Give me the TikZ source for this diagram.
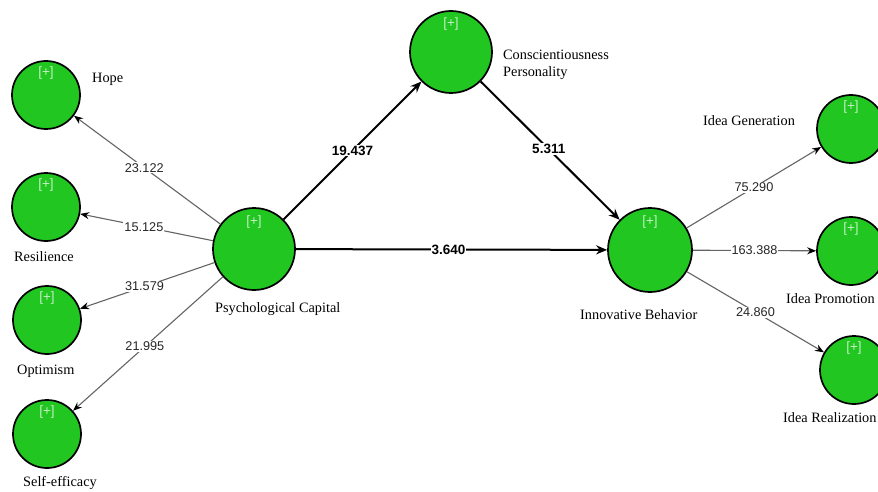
\documentclass[tikz,border=0pt]{standalone}
\usepackage{fontspec}
\setmainfont{Liberation Serif}
\newfontfamily\numfont{Liberation Sans}
\usetikzlibrary{arrows.meta}
\definecolor{lvgreen}{RGB}{33,198,33}
\definecolor{plusc}{RGB}{195,238,195}
\definecolor{indgray}{RGB}{100,100,100}
\begin{document}
\begin{tikzpicture}[x=1pt,y=-1pt,
  lv/.style={circle,draw=black,line width=1.7pt,fill=lvgreen,inner sep=0pt,minimum size=#1},
  pluslbl/.style={text=plusc,font=\numfont\fontsize{13.5}{14}\selectfont,inner sep=0pt},
  txt/.style={anchor=west,inner sep=0pt,font=\fontsize{14.3}{17.5}\selectfont,align=left},
  num/.style={fill=white,inner sep=1pt,font=\numfont\fontsize{12.7}{14}\selectfont,text=black!85},
  bnum/.style={fill=white,inner sep=1pt,font=\numfont\bfseries\fontsize{13.5}{15}\selectfont},
  ind/.style={draw=indgray,line width=1.1pt,-{Stealth[length=9pt,width=7pt,color=black]}},
  path/.style={draw=black,line width=2pt,-{Stealth[length=11pt,width=9pt]}}
]
\useasboundingbox (0,0) rectangle (878,492);
\clip (0,0) rectangle (878,492);
% latent variables
\node[lv=82pt] (psy) at (254,249) {};
\node[lv=82pt] (con) at (451,52) {};
\node[lv=84pt] (inn) at (650,250) {};
% indicators left
\node[lv=68pt] (hope) at (46,95) {};
\node[lv=68pt] (res) at (46,207) {};
\node[lv=68pt] (opt) at (47,320) {};
\node[lv=68pt] (self) at (47,434) {};
% indicators right
\node[lv=68pt] (ig) at (851,129) {};
\node[lv=68pt] (ip) at (851,251) {};
\node[lv=68pt] (ir) at (854,370) {};
% [+] marks
\node[pluslbl] (psyp) at ([yshift=27pt]psy.center) {[+]};
\node[pluslbl] (conp) at ([yshift=28pt]con.center) {[+]};
\node[pluslbl] (innp) at ([yshift=28pt]inn.center) {[+]};
\node[pluslbl] (hopep) at ([yshift=22pt]hope.center) {[+]};
\node[pluslbl] (resp) at ([yshift=22pt]res.center) {[+]};
\node[pluslbl] (optp) at ([yshift=22pt]opt.center) {[+]};
\node[pluslbl] (selfp) at ([yshift=22pt]self.center) {[+]};
\node[pluslbl] (igp) at ([yshift=22pt]ig.center) {[+]};
\node[pluslbl] (ipp) at ([yshift=22pt]ip.center) {[+]};
\node[pluslbl] (irp) at ([yshift=22pt]ir.center) {[+]};
% labels
\node[txt] (hopel) at (92,79) {Hope};
\node[txt] (resl) at (14,257) {Resilience};
\node[txt] (optl) at (17,371) {Optimism};
\node[txt] (selfl) at (23,483) {Self-efficacy};
\node[txt] (psyl) at (215,309) {Psychological Capital};
\node[txt] (conl) at (503,65) {Conscientiousness\\Personality};
\node[txt] (innl) at (580,315) {Innovative Behavior};
\node[txt] (igl) at (703,121) {Idea Generation};
\node[txt] (ipl) at (786,299) {Idea Promotion};
\node[txt] (irl) at (783,418) {Idea Realization};
% indicator edges
\draw[ind] (psy) -- node[num,pos=0.52]{23.122} (hope);
\draw[ind] (psy) -- node[num,pos=0.52]{15.125} (res);
\draw[ind] (psy) -- node[num,pos=0.52]{31.579} (opt);
\draw[ind] (psy) -- node[num,pos=0.52]{21.995} (self);
\draw[ind] (inn) -- node[num,pos=0.5]{75.290} (ig);
\draw[ind] (inn) -- node[num,pos=0.5]{163.388} (ip);
\draw[ind] (inn) -- node[num,pos=0.5]{24.860} (ir);
% structural paths
\draw[path] (psy) -- node[bnum,pos=0.5]{19.437} (con);
\draw[path] (con) -- node[bnum,pos=0.49]{5.311} (inn);
\draw[path] (psy) -- node[bnum,pos=0.49]{3.640} (inn);
\end{tikzpicture}
\end{document}
